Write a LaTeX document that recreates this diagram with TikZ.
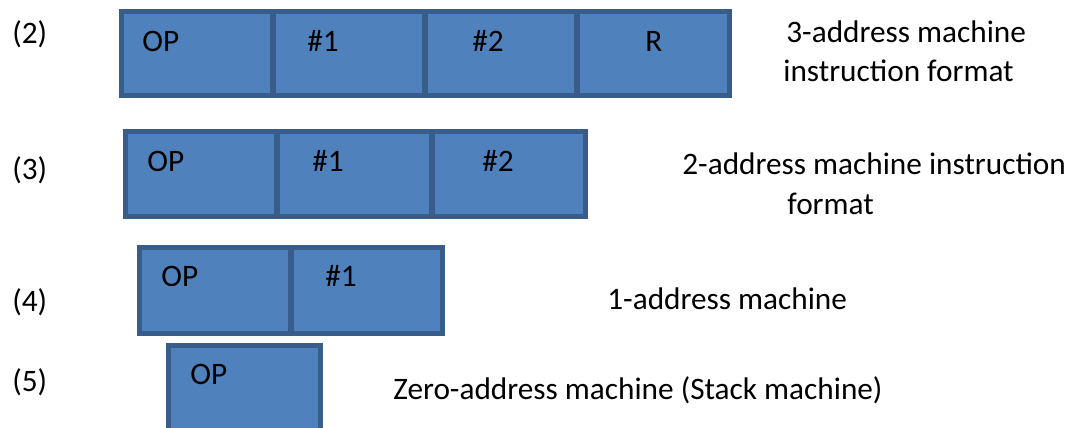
\documentclass[tikz,border=0pt]{standalone}
\usepackage{fontspec}
\setmainfont{Carlito}
\usepackage{tikz}
\usetikzlibrary{positioning}

\definecolor{cellfill}{HTML}{4F81BD}
\definecolor{celledge}{HTML}{385D8A}

\tikzset{
    cell/.style={draw=celledge, fill=cellfill, line width=3.2pt},
    txt/.style={anchor=base west, inner sep=0pt, font=\fontsize{17.8}{21}\selectfont}
}

\begin{document}
\begin{tikzpicture}[x=0.02cm, y=-0.02cm]
        \useasboundingbox (0,0) rectangle (1080,428);
        \clip (0,0) rectangle (1080,428);

        % Draw 3-address format
        \draw[cell] (121.5,11.5) rectangle (273,95.5);
        \draw[cell] (273,11.5) rectangle (425,95.5);
        \draw[cell] (425,11.5) rectangle (577,95.5);
        \draw[cell] (577,11.5) rectangle (729.5,95.5);

        % Draw 2-address format
        \draw[cell] (125.5,131.5) rectangle (277,216.5);
        \draw[cell] (277,131.5) rectangle (432,216.5);
        \draw[cell] (432,131.5) rectangle (585.5,216.5);

        % Draw 1-address format
        \draw[cell] (139.5,247.5) rectangle (291,333.5);
        \draw[cell] (291,247.5) rectangle (442.5,333.5);

        % Draw zero-address format
        \draw[cell] (168.5,345.5) rectangle (320.5,460);

        % Define the fields
        \node[txt] (op2) at (142,52) {OP};
        \node[txt] (a2) at (307,52) {\#1};
        \node[txt] (b2) at (472,52) {\#2};
        \node[txt] (r2) at (645,52) {R};

        \node[txt] (op3) at (147,172) {OP};
        \node[txt] (a3) at (312,172) {\#1};
        \node[txt] (b3) at (482,172) {\#2};

        \node[txt] (op4) at (161,287) {OP};
        \node[txt] (a4) at (325,287) {\#1};

        \node[txt] (op5) at (190,385) {OP};

        % Define the row numbers
        \node[txt] (n2) at (12,44) {(2)};
        \node[txt] (n3) at (12,180) {(3)};
        \node[txt] (n4) at (12,312) {(4)};
        \node[txt] (n5) at (12,392) {(5)};

        % Define the descriptions
        \node[txt] (d2a) at (786,43) {3-address machine};
        \node[txt] (d2b) at (783,82) {instruction format};
        \node[txt] (d3a) at (682,175) {2-address machine instruction};
        \node[txt] (d3b) at (787,215) {format};
        \node[txt] (d4) at (607,310) {1-address machine};
        \node[txt] (d5) at (393,400) {Zero-address machine (Stack machine)};
    \end{tikzpicture}
\end{document}
